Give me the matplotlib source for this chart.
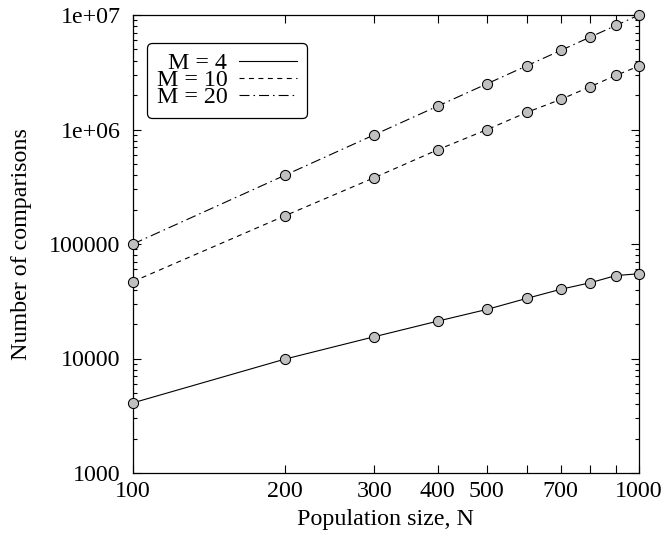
import matplotlib
matplotlib.use("Agg")
import matplotlib.pyplot as plt
from matplotlib.lines import Line2D
from matplotlib.ticker import FixedLocator, FixedFormatter, LogLocator, NullFormatter

# population sizes
pop_size = [100, 200, 300, 400, 500, 600, 700, 800, 900, 1000]

# number of comparisons for each M
comp_m4 = [4100, 9900, 15500, 21200, 26800, 33500, 40200, 45800, 53000, 55000]
comp_m10 = [47000, 177000, 380000, 665000, 995000, 1410000, 1830000, 2360000, 2970000, 3580000]
comp_m20 = [100000, 400000, 900000, 1600000, 2500000, 3600000, 4900000, 6400000, 8100000, 10000000]

series_labels = ["M = 4", "M = 10", "M = 20"]

x_ticks = [100, 200, 300, 400, 500, 600, 700, 800, 900, 1000]
x_tick_labels = ["100", "200", "300", "400", "500", "", "700", "", "", "1000"]
y_ticks = [1000, 10000, 100000, 1000000, 10000000]
y_tick_labels = ["1000", "10000", "100000", "1e+06", "1e+07"]

fs = 17.3
plt.rcParams["font.family"] = ["Liberation Serif", "DejaVu Serif"]
plt.rcParams["font.size"] = fs

fig = plt.figure(figsize=(6.63, 5.38), dpi=100)
ax = fig.add_axes([133 / 663, 1 - 473 / 538, 506 / 663, 458 / 538])

lw = 0.8
styles = ["-", (0, (4.5, 4)), (0, (9, 3.6, 1.4, 3.6))]
all_data = [comp_m4, comp_m10, comp_m20]

for data, ls in zip(all_data, styles):
    # линия и маркеры отдельно, чтобы маркеры были поверх
    ax.plot(pop_size, data, color="k", lw=lw, linestyle=ls, zorder=2)
    ax.plot(pop_size, data, linestyle="none", marker="o", ms=7.3,
            mfc="#c0c0c0", mec="k", mew=0.75, zorder=3, clip_on=False)

ax.set_xscale("log")
ax.set_yscale("log")
ax.set_xlim(100, 1000)
ax.set_ylim(1000, 10000000)

ax.xaxis.set_major_locator(FixedLocator(x_ticks))
ax.xaxis.set_major_formatter(FixedFormatter(x_tick_labels))
ax.xaxis.set_minor_locator(FixedLocator([]))
ax.yaxis.set_major_locator(FixedLocator(y_ticks))
ax.yaxis.set_major_formatter(FixedFormatter(y_tick_labels))
ax.yaxis.set_minor_locator(LogLocator(base=10, subs=range(2, 10), numticks=20))
ax.yaxis.set_minor_formatter(NullFormatter())

ax.tick_params(which="both", direction="in", top=True, right=True, width=0.8)
ax.tick_params(which="major", length=6)
ax.tick_params(which="minor", length=3.2)
ax.tick_params(axis="x", which="major", pad=6)
ax.tick_params(axis="y", which="major", pad=9)

for sp in ax.spines.values():
    sp.set_linewidth(0.9)

ax.set_xlabel("Population size, N", labelpad=5)
ax.set_ylabel("Number of comparisons", labelpad=12)

handles = [Line2D([], [], color="k", lw=lw, linestyle=ls) for ls in styles]
leg = ax.legend(handles, series_labels, loc="upper left",
                bbox_to_anchor=(147 / 663, 1 - 43 / 538),
                bbox_transform=fig.transFigure, borderaxespad=0,
                markerfirst=False, fancybox=True, framealpha=1,
                edgecolor="k", handlelength=2.4, handletextpad=0.5,
                labelspacing=-0.2, borderpad=0.4, fontsize=fs)
leg.get_frame().set_linewidth(0.9)

fig.savefig("out.png", dpi=100)
